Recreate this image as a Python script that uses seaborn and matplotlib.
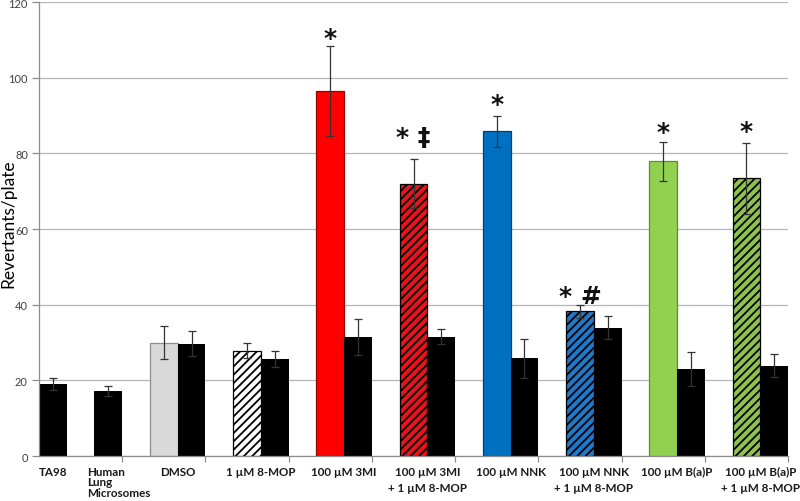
import numpy as np
import pandas as pd
import matplotlib
matplotlib.use("Agg")
import matplotlib.pyplot as plt
import seaborn as sns

# ---------------- data ----------------
labels = ["TA98", "Human\nLung\nMicrosomes", "DMSO", "1 µM 8-MOP", "100 µM 3MI",
          "100 µM 3MI\n+ 1 µM 8-MOP", "100 µM NNK", "100 µM NNK\n+ 1 µM 8-MOP",
          "100 µM B(a)P", "100 µM B(a)P\n+ 1 µM 8-MOP"]
treated = [np.nan, np.nan, 30.0, 27.8, 96.5, 72.0, 85.9, 38.2, 77.9, 73.4]
treated_err = [np.nan, np.nan, 4.3, 2.0, 11.8, 6.4, 4.1, 1.8, 5.2, 9.3]
control = [19.0, 17.1, 29.7, 25.6, 31.5, 31.5, 25.8, 33.9, 22.9, 23.9]
control_err = [1.5, 1.3, 3.3, 2.1, 4.8, 2.0, 5.2, 3.1, 4.5, 3.0]
marks = ["", "", "", "", "*", "* ‡", "*", "* #", "*", "*"]
yticks = [0, 20, 40, 60, 80, 100, 120]

# ---------------- styles ----------------
fills = [None, None, "#D9D9D9", "#FFFFFF", "#FF0000", "#E8141B", "#0070C0", "#1F78C8",
         "#92D050", "#8DC24E"]
hatched = [False, False, False, True, False, True, False, True, False, True]
edges = [None, None, "#8C8C8C", "#000000", "#9A0000", "#000000", "#003F70", "#000000",
         "#5E8C2E", "#000000"]
mark_pad = [0, 0, 0, 0, 1, 11, 3, 1, 2, 4]

sns.set_theme(style="white")
plt.rcParams["font.family"] = ["Lato", "DejaVu Sans"]
plt.rcParams["hatch.linewidth"] = 1.3

# ---------------- layout (slot positions) ----------------
rows = []
for i in range(len(labels)):
    if not np.isnan(treated[i]):
        rows.append(dict(pos=3 * (i - 1) + 1.5, value=treated[i], err=treated_err[i],
                         bid=f"t{i}", color=fills[i], hatch=hatched[i], edge=edges[i],
                         mark=marks[i], pad=mark_pad[i]))
    cpos = 0.5 if i == 0 else (2.5 if i == 1 else 3 * (i - 1) + 2.5)
    rows.append(dict(pos=cpos, value=control[i], err=control_err[i], bid=f"c{i}",
                     color="#000000", hatch=False, edge=None, mark="", pad=0))
df = pd.DataFrame(rows)

fig = plt.figure(figsize=(8, 5.02), dpi=100)
ax = fig.add_axes([0.04875, 0.0896, 0.93625, 0.9044])

palette = dict(zip(df["bid"], df["color"]))
sns.barplot(data=df, x="pos", y="value", hue="bid", palette=palette, native_scale=True,
            dodge=False, width=1.0, errorbar=None, saturation=1, legend=False, ax=ax,
            linewidth=0, zorder=2)

for patch, (_, r) in zip(ax.patches, df.iterrows()):
    if r["edge"] is not None:
        patch.set_edgecolor(r["edge"])
        patch.set_linewidth(0.9)
    else:
        patch.set_linewidth(0)
    if r["hatch"]:
        patch.set_hatch("////")

ax.errorbar(df["pos"], df["value"], yerr=df["err"], fmt="none", ecolor="#333333",
            elinewidth=0.9, capsize=3, capthick=0.9, zorder=3)

for _, r in df.iterrows():
    if r["mark"]:
        ax.annotate(r["mark"], (r["pos"], r["value"] + r["err"]), xytext=(0, r["pad"]),
                    textcoords="offset points", ha="center", va="baseline",
                    fontsize=18, fontweight="bold", color="#111111",
                    family=["DejaVu Sans"])

# axes cosmetics
ax.set_xlim(0, 27)
ax.set_ylim(0, 120)
ax.set_yticks(yticks)
ax.set_yticklabels([str(t) for t in yticks], fontsize=8, color="#404040")
ax.yaxis.grid(True, color="#B5B5B5", linewidth=0.9)
ax.set_axisbelow(True)
for s in ["top", "right"]:
    ax.spines[s].set_visible(False)
for s in ["left", "bottom"]:
    ax.spines[s].set_color("#8C8C8C")
    ax.spines[s].set_linewidth(0.9)

label_pos = [0.5, 1.75] + [3 * (i - 1) + 2 for i in range(2, len(labels))]
ax.set_xticks(label_pos)
ax.set_xticklabels(labels, fontsize=8.4, fontweight="bold", color="#1A1A1A")
for i, t in enumerate(ax.get_xticklabels()):
    if i == 1:
        t.set_ha("left")
        t.set_linespacing(0.95)
    else:
        t.set_ha("center")
        t.set_linespacing(1.55)
ax.set_xticks([3 * k for k in range(1, 10)], minor=True)
ax.tick_params(axis="x", which="major", length=0, pad=7)
ax.tick_params(axis="x", which="minor", length=4, color="#8C8C8C", width=0.9,
               direction="out", bottom=True)
ax.tick_params(axis="y", length=5, color="#8C8C8C", width=0.9, direction="out",
               left=True, pad=3)
ax.set_xlabel("")
ax.set_ylabel("")
fig.text(8 / 800, 0.555, "Revertants/plate", rotation=90, ha="center", va="center",
         fontsize=12.5, color="#000000")

fig.savefig("out.png", dpi=100)
